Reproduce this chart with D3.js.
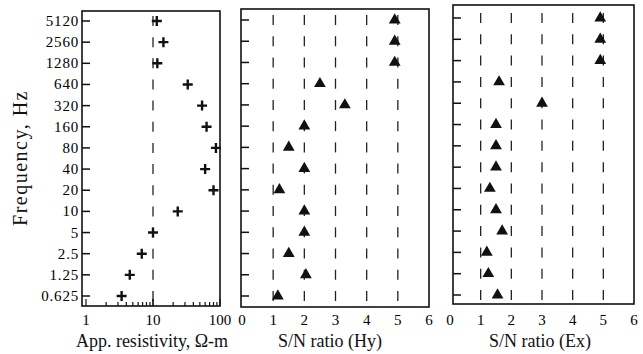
<!DOCTYPE html>
<html>
<head>
<meta charset="utf-8">
<script src="https://cdn.jsdelivr.net/npm/d3@7"></script>
<style>
  body { margin: 0; background: #fff; }
  svg { display: block; font-family: "Liberation Serif", "Times New Roman", serif; }
</style>
</head>
<body>
<div id="chart"></div>
<script>
// frequencies, top to bottom
const freqLabels = ['5120', '2560', '1280', '640', '320', '160', '80', '40', '20', '10', '5', '2.5', '1.25', '0.625'];
// apparent resistivity, ohm-m
const resistivity = [11.4, 14.3, 11.6, 33, 54, 63, 87, 60, 80, 23.4, 10, 6.8, 4.5, 3.4];
// S/N ratios
const snrHy = [4.9, 4.9, 4.9, 2.5, 3.3, 2.0, 1.5, 2.0, 1.2, 2.0, 2.0, 1.5, 2.05, 1.15];
const snrEx = [4.9, 4.9, 4.9, 1.6, 3.0, 1.5, 1.5, 1.5, 1.3, 1.5, 1.7, 1.2, 1.25, 1.55];
const resTicks = [1, 10, 100];
const snTicks = [0, 1, 2, 3, 4, 5, 6];
const resGuides = [10];
const snGuides = [1, 2, 3, 4, 5];

const width = 643, height = 354;
const svg = d3.select('#chart').append('svg')
  .attr('width', width).attr('height', height);

const panels = [
  { left: 82, right: 220, top: 11, bottom: 306, rows: [21, 296],
    x: d3.scaleLog().domain([1, 100]).range([86, 220]),
    ticks: resTicks, guides: resGuides, values: resistivity, mark: 'plus',
    labels: true, title: 'App. resistivity, \u03A9-m', titleX: 152 },
  { left: 241, right: 429, top: 9, bottom: 307, rows: [20, 296],
    x: d3.scaleLinear().domain([0, 6]).range([242, 429]),
    ticks: snTicks, guides: snGuides, values: snrHy, mark: 'tri',
    labels: false, title: 'S/N ratio (Hy)', titleX: 330 },
  { left: 453, right: 634, top: 5, bottom: 304, rows: [18, 295],
    x: d3.scaleLinear().domain([0, 6]).range([450, 634]),
    ticks: snTicks, guides: snGuides, values: snrEx, mark: 'tri',
    labels: false, title: 'S/N ratio (Ex)', titleX: 540 }
];

const tri = d3.symbol(d3.symbolTriangle, 60);

panels.forEach(p => {
  const y = d3.scalePoint().domain(freqLabels).range(p.rows);
  const g = svg.append('g');

  // dashed guide lines, one dash per row
  p.guides.forEach(v => {
    g.selectAll(null)
      .data(freqLabels)
      .enter()
      .append('line')
      .attr('x1', p.x(v)).attr('x2', p.x(v))
      .attr('y1', d => y(d) - 5).attr('y2', d => y(d) + 5)
      .attr('stroke', '#222').attr('stroke-width', 1.3);
  });

  // y ticks, pointing inward
  g.selectAll(null)
    .data(freqLabels)
    .enter()
    .append('line')
    .attr('x1', p.left).attr('x2', p.left + 8)
    .attr('y1', d => y(d)).attr('y2', d => y(d))
    .attr('stroke', '#111').attr('stroke-width', 1.5);

  if (p.labels) {
    g.selectAll(null)
      .data(freqLabels)
      .enter()
      .append('text')
      .attr('x', p.left - 3)
      .attr('y', d => y(d) + 5)
      .attr('text-anchor', 'end')
      .attr('font-size', 15)
      .attr('letter-spacing', 0.8)
      .attr('fill', '#000')
      .text(d => d);

    // log minor ticks on bottom
    const minor = [];
    for (let dec = 1; dec < 100; dec *= 10) {
      for (let k = 1; k <= 10; k++) minor.push(dec * k);
    }
    g.selectAll(null)
      .data(minor.filter(v => v <= 100))
      .enter()
      .append('line')
      .attr('x1', d => p.x(d)).attr('x2', d => p.x(d))
      .attr('y1', p.bottom)
      .attr('y2', d => p.bottom - (resTicks.includes(d) ? 7 : 4))
      .attr('stroke', '#111').attr('stroke-width', 1.2);
  }

  // x tick labels
  g.selectAll(null)
    .data(p.ticks)
    .enter()
    .append('text')
    .attr('x', d => p.x(d))
    .attr('y', 325)
    .attr('text-anchor', 'middle')
    .attr('font-size', 15)
    .attr('fill', '#000')
    .text(d => d);

  // frame
  g.append('rect')
    .attr('x', p.left).attr('y', p.top)
    .attr('width', p.right - p.left).attr('height', p.bottom - p.top)
    .attr('fill', 'none').attr('stroke', '#111').attr('stroke-width', 1.6);

  // markers
  const pts = g.selectAll(null)
    .data(p.values.map((v, i) => ({ v: v, f: freqLabels[i] })))
    .enter();
  if (p.mark === 'plus') {
    pts.append('path')
      .attr('d', d => {
        const cx = p.x(d.v), cy = y(d.f), r = 5;
        return `M${cx - r},${cy}H${cx + r}M${cx},${cy - r}V${cy + r}`;
      })
      .attr('stroke', '#111').attr('stroke-width', 2.4).attr('fill', 'none');
  } else {
    pts.append('path')
      .attr('d', tri)
      .attr('transform', d => `translate(${p.x(d.v)},${y(d.f)})`)
      .attr('fill', '#111');
  }

  // x title
  svg.append('text')
    .attr('x', p.titleX).attr('y', 347)
    .attr('text-anchor', 'middle')
    .attr('font-size', 18)
    .attr('fill', '#111')
    .text(p.title);
});

// y title
svg.append('text')
  .attr('transform', 'translate(27,158) rotate(-90)')
  .attr('text-anchor', 'middle')
  .attr('font-size', 20)
  .attr('letter-spacing', 1.5)
  .attr('fill', '#111')
  .text('Frequency, Hz');
</script>
</body>
</html>
